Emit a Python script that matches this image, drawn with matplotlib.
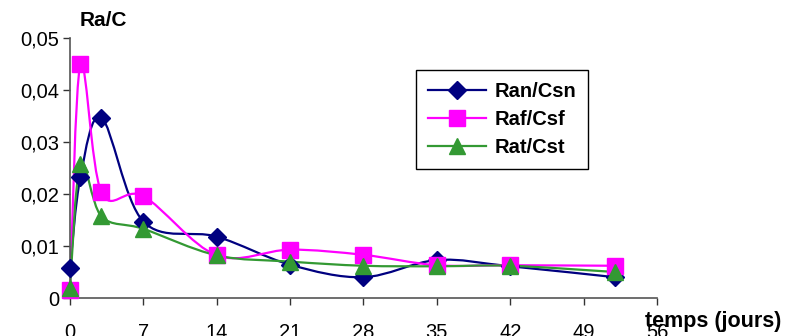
import numpy as np
import matplotlib
matplotlib.use("Agg")
from matplotlib import pyplot as plt
from matplotlib.path import Path
from matplotlib.patches import PathPatch
from matplotlib.lines import Line2D

plt.rcParams['font.family'] = ['Liberation Sans', 'DejaVu Sans']

# time in days
jours = [0, 1, 3, 7, 14, 21, 28, 35, 42, 52]

ran_csn = [0.0057, 0.0233, 0.0347, 0.0147, 0.0118, 0.0064, 0.0040, 0.0073, 0.0061, 0.0040]
raf_csf = [0.0015, 0.0450, 0.0203, 0.0196, 0.0082, 0.0093, 0.0083, 0.0063, 0.0063, 0.0062]
rat_cst = [0.0020, 0.0258, 0.0157, 0.0133, 0.0082, 0.0070, 0.0062, 0.0061, 0.0062, 0.0050]

x_ticks = [0, 7, 14, 21, 28, 35, 42, 49, 56]
y_ticks = [0, 0.01, 0.02, 0.03, 0.04, 0.05]
y_labels = ["0", "0,01", "0,02", "0,03", "0,04", "0,05"]

series = [
    ("Ran/Csn", ran_csn, "#000080", "D", 9),
    ("Raf/Csf", raf_csf, "#ff00ff", "s", 11),
    ("Rat/Cst", rat_cst, "#339933", "^", 11),
]


def smooth_path(x, y, t=0.5):
    # Catmull-Rom segments turned into cubic Bezier pieces
    x = np.asarray(x, float)
    y = np.asarray(y, float)
    n = len(x)
    verts = [(x[0], y[0])]
    codes = [Path.MOVETO]
    for i in range(n - 1):
        i0 = max(i - 1, 0)
        i3 = min(i + 2, n - 1)
        c1 = (x[i] + (x[i + 1] - x[i0]) * t / 3, y[i] + (y[i + 1] - y[i0]) * t / 3)
        c2 = (x[i + 1] - (x[i3] - x[i]) * t / 3, y[i + 1] - (y[i3] - y[i]) * t / 3)
        verts += [c1, c2, (x[i + 1], y[i + 1])]
        codes += [Path.CURVE4] * 3
    return Path(verts, codes)


fig = plt.figure(figsize=(7.94, 3.36), dpi=100)
ax = fig.add_axes([70 / 794, 38 / 336, 587 / 794, 260 / 336])

handles = []
for name, vals, col, mk, ms in series:
    ax.add_patch(PathPatch(smooth_path(jours, vals), facecolor="none",
                           edgecolor=col, lw=1.6, zorder=2))
    ax.plot(jours, vals, ls="none", marker=mk, ms=ms, color=col, zorder=3,
            clip_on=False)
    handles.append(Line2D([], [], color=col, lw=1.6, marker=mk, ms=ms))

ax.set_xlim(0, 56)
ax.set_ylim(0, 0.05)
ax.set_xticks(x_ticks)
ax.set_yticks(y_ticks)
ax.set_yticklabels(y_labels)
ax.tick_params(axis="both", direction="out", length=5, width=1, colors="#333333",
               labelsize=14.5, labelcolor="black")
ax.tick_params(axis="x", pad=13)
ax.tick_params(axis="y", pad=3)
for s in ("top", "right"):
    ax.spines[s].set_visible(False)
for s in ("left", "bottom"):
    ax.spines[s].set_color("#555555")
    ax.spines[s].set_linewidth(1.2)

fig.text(80 / 794, 1 - 20 / 336, "Ra/C", fontsize=15, fontweight="bold",
         va="center", ha="left")
fig.text(645 / 794, 1 - 322 / 336, "temps (jours)", fontsize=15.5, fontweight="bold",
         va="center", ha="left")

leg = ax.legend(handles, [h[0] for h in series], loc="upper left",
                bbox_to_anchor=((416 - 70) / 587, (298 - 70) / 260),
                borderaxespad=0,
                frameon=True, fancybox=False, edgecolor="black", framealpha=1,
                prop={"weight": "bold", "size": 14.5}, handlelength=2.9,
                borderpad=0.6, labelspacing=0.45, handletextpad=0.4)
leg.get_frame().set_linewidth(1)

fig.savefig("out.png", dpi=100)
